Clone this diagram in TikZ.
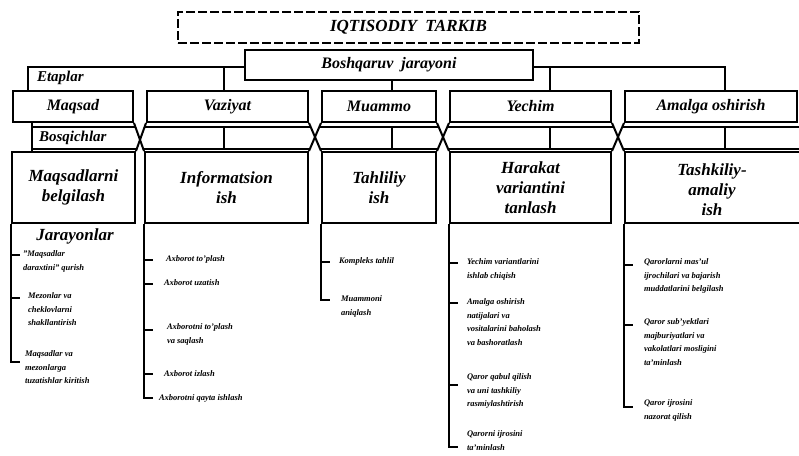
\documentclass[tikz,border=0pt]{standalone}
\usepackage{fontspec}
\setmainfont{Liberation Serif}
\begin{document}
\begin{tikzpicture}[x=1pt,y=-1pt,line width=2pt,
  box/.style={draw,rectangle,inner sep=0pt,font=\bfseries\itshape\fontsize{16}{18}\selectfont,align=center},
  hdr/.style={draw,rectangle,inner sep=0pt,font=\bfseries\itshape\fontsize{17}{20}\selectfont,align=center},
  hdrtext/.style={inner sep=0pt,font=\bfseries\itshape\fontsize{17}{20}\selectfont,align=center},
  lbl/.style={inner sep=0pt,font=\bfseries\itshape\fontsize{15}{17}\selectfont,anchor=west},
  proc/.style={inner sep=0pt,font=\bfseries\itshape\fontsize{8.5}{13.5}\selectfont,align=left,anchor=north west},
  tickmark/.style={line width=2.8pt}]
\useasboundingbox (0,0) rectangle (799,455);
\fill[white] (0,0) rectangle (799,455);

% top boxes
\node[box,font=\bfseries\itshape\fontsize{17}{19}\selectfont,dash pattern=on 9pt off 3pt,minimum width=461pt,minimum height=31pt] (top) at (408.5,27.5) {IQTISODIY\enspace TARKIB};
\node[box,minimum width=288pt,minimum height=30pt] (boss) at (389,65) {Boshqaruv\enspace jarayoni};

% stage boxes
\node[box,minimum width=120pt,minimum height=31pt] (maqsad) at (73,106.5) {Maqsad};
\node[box,minimum width=161pt,minimum height=31pt] (vaziyat) at (227.5,106.5) {Vaziyat};
\node[box,minimum width=114pt,minimum height=31pt] (muammo) at (379,106.5) {Muammo};
\node[box,minimum width=161pt,minimum height=31pt] (yechim) at (530.5,106.5) {Yechim};
\node[box,minimum width=172pt,minimum height=31pt] (amalga) at (711,106.5) {Amalga oshirish};

% bosqich boxes
\node[hdr,minimum width=123pt,minimum height=71pt] (b1) at (73.5,187.5) {Maqsadlarni\\belgilash};
\node[hdr,minimum width=163pt,minimum height=71pt] (b2) at (226.5,187.5) {Informatsion\\ish};
\node[hdr,minimum width=114pt,minimum height=71pt] (b3) at (379,187.5) {Tahliliy\\ish};
\node[hdr,minimum width=161pt,minimum height=71pt] (b4) at (530.5,187.5) {Harakat\\variantini\\tanlash};
\node[draw,rectangle,inner sep=0pt,minimum width=185pt,minimum height=71pt] (b5) at (717.5,187.5) {};
\node[hdrtext] (b5t) at (712,190) {Tashkiliy-\\amaliy\\ish};

% labels
\node[lbl] (etap) at (36,78) {Etaplar};
\node[lbl] (bosq) at (38,138) {Bosqichlar};
\node[inner sep=0pt,font=\bfseries\itshape\fontsize{17}{20}\selectfont] (jar) at (75,236) {Jarayonlar};

% upper connectors
\coordinate (e1) at (28,67);
\coordinate (e2) at (224,67);
\coordinate (r1) at (550,67);
\coordinate (r2) at (725,67);
\coordinate (m1) at (392,0);
\draw (maqsad.north -| e1) -- (e1) -- (boss.west |- e1);
\draw (e2) -- (vaziyat.north -| e2);
\draw (boss.east |- r1) -- (r2) -- (amalga.north -| r2);
\draw (r1) -- (yechim.north -| r1);
\draw (boss.south -| m1) -- (muammo.north -| m1);

% crossing arms
\draw (maqsad.south east) -- (b2.north west);
\draw (vaziyat.south west) -- (b1.north east);
\draw (vaziyat.south east) -- (b3.north west);
\draw (muammo.south west) -- (b2.north east);
\draw (muammo.south east) -- (b4.north west);
\draw (yechim.south west) -- (b3.north east);
\draw (yechim.south east) -- (b5.north west);
\draw (amalga.south west) -- (b4.north east);

% bosqichlar band
\coordinate (bl) at (32,0);
\draw (maqsad.south -| bl) -- (b1.north -| bl);
\draw (32,127) -- (135,127);
\draw (32,149) -- (136.2,149);
\draw (145,127) -- (310.3,127);
\draw (143.8,149) -- (309.4,149);
\draw (319.7,127) -- (438.3,127);
\draw (320.6,149) -- (437.4,149);
\draw (447.7,127) -- (613.3,127);
\draw (448.6,149) -- (612.4,149);
\draw (622.7,127) -- (805,127);
\draw (623.6,149) -- (805,149);
\draw (224,127) -- (224,149);
\draw (392,127) -- (392,149);
\draw (550,127) -- (550,149);
\draw (725,127) -- (725,149);

% brackets
\draw (b1.south west) |- (20,362);
\foreach \y in {255,298,362} \draw[tickmark] (12,\y) -- ++(8,0);
\draw (b2.south west) |- (153,398);
\foreach \y in {260,284,330,374,398} \draw[tickmark] (145,\y) -- ++(8,0);
\draw (b3.south west) |- (330,300);
\foreach \y in {262,300} \draw[tickmark] (322,\y) -- ++(8,0);
\draw (b4.south west) |- (458,447);
\foreach \y in {263,303,385,447} \draw[tickmark] (450,\y) -- ++(8,0);
\draw (b5.south west) |- (633,407);
\foreach \y in {265,325,407} \draw[tickmark] (625,\y) -- ++(8,0);

% process texts
\node[proc] (p11) at (22,250) {"Maqsadlar\\daraxtini" qurish};
\node[proc] (p12) at (27,292) {Mezonlar va\\cheklovlarni\\shakllantirish};
\node[proc] (p13) at (24,350) {Maqsadlar va\\mezonlarga\\tuzatishlar kiritish};

\node[proc] (p21) at (165,255) {Axborot to'plash};
\node[proc] (p22) at (163,279) {Axborot uzatish};
\node[proc] (p23) at (166,323) {Axborotni to'plash\\va saqlash};
\node[proc] (p24) at (163,370) {Axborot izlash};
\node[proc] (p25) at (158,394) {Axborotni qayta ishlash};

\node[proc] (p31) at (338,257) {Kompleks tahlil};
\node[proc] (p32) at (340,295) {Muammoni\\aniqlash};

\node[proc] (p41) at (466,258) {Yechim variantlarini\\ishlab chiqish};
\node[proc] (p42) at (466,298) {Amalga oshirish\\natijalari va\\vositalarini baholash\\va bashoratlash};
\node[proc] (p43) at (466,373) {Qaror qabul qilish\\va uni tashkiliy\\rasmiylashtirish};
\node[proc] (p44) at (466,430) {Qarorni ijrosini\\ta'minlash};

\node[proc] (p51) at (643,258) {Qarorlarni mas'ul\\ijrochilari va bajarish\\muddatlarini belgilash};
\node[proc] (p52) at (643,318) {Qaror sub'yektlari\\majburiyatlari va\\vakolatlari mosligini\\ta'minlash};
\node[proc] (p53) at (643,399) {Qaror ijrosini\\nazorat qilish};
\end{tikzpicture}
\end{document}
